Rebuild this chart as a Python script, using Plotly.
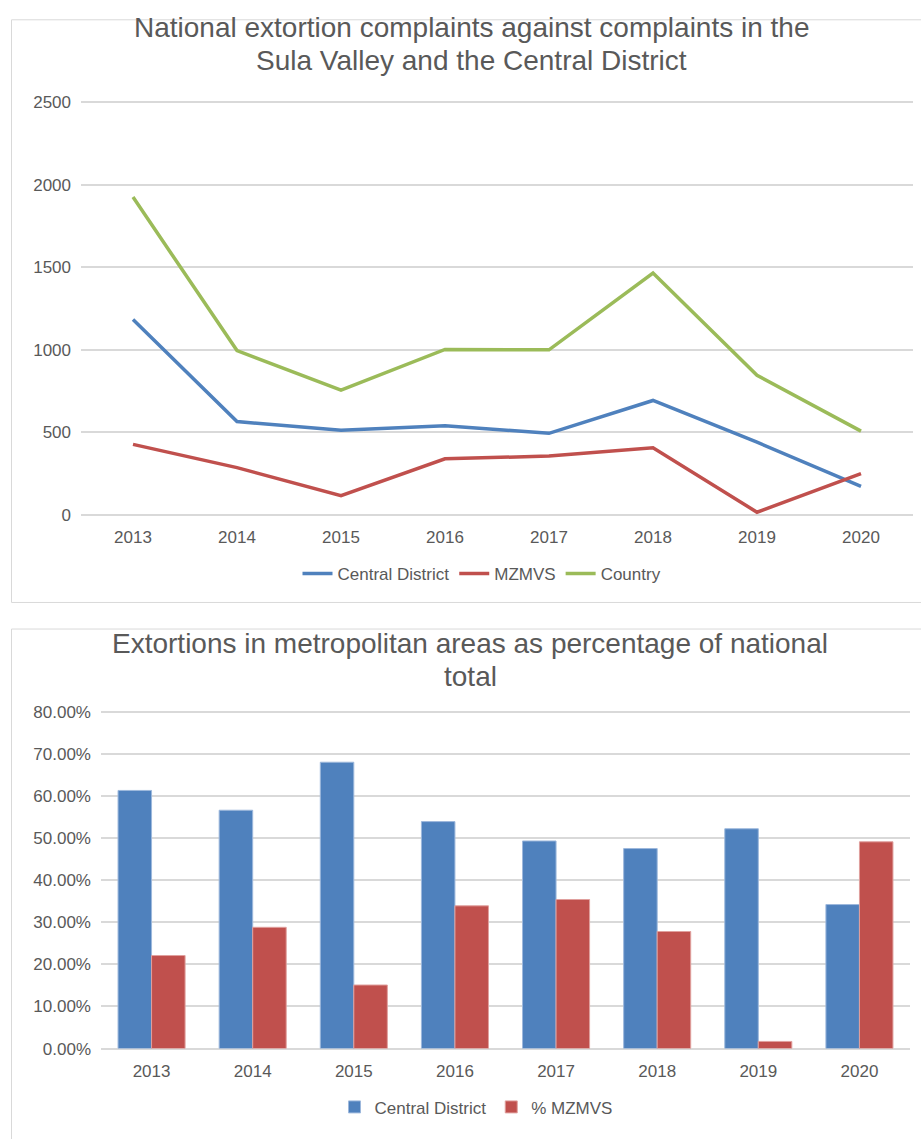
import plotly.graph_objects as go

# Years shared by both panels
years = ["2013", "2014", "2015", "2016", "2017", "2018", "2019", "2020"]

# Extortion complaints (counts)
central_district = [1183, 565, 512, 540, 494, 693, 440, 172]
mzmvs = [427, 286, 116, 340, 356, 407, 16, 250]
country = [1925, 995, 755, 1002, 1000, 1465, 846, 507]

# Share of the national total (%)
central_pct = [61.3, 56.6, 68.0, 53.9, 49.3, 47.5, 52.2, 34.2]
mzmvs_pct = [22.1, 28.8, 15.1, 33.9, 35.4, 27.8, 1.7, 49.1]

# Axis ticks
count_ticks = [0, 500, 1000, 1500, 2000, 2500]
pct_ticks = [0, 10, 20, 30, 40, 50, 60, 70, 80]
pct_labels = [f"{v:.2f}%" for v in pct_ticks]

BLUE = "#4F81BD"
RED = "#C0504D"
GREEN = "#9BBB59"
GRID = "#D9D9D9"
TEXT = "#595959"
FONT = "Liberation Sans, Arial, sans-serif"

W, H = 921, 1139


def px_x(x):
    return x / W


def px_y(y):
    return 1 - y / H


fig = go.Figure()

# Top panel: lines
for name, vals, col in [("Central District", central_district, BLUE),
                        ("MZMVS", mzmvs, RED),
                        ("Country", country, GREEN)]:
    fig.add_trace(go.Scatter(x=years, y=vals, name=name, mode="lines",
                             line=dict(color=col, width=3.5),
                             xaxis="x", yaxis="y", legend="legend"))

# Bottom panel: grouped bars
fig.add_trace(go.Bar(x=years, y=central_pct, name="Central District",
                     marker=dict(color=BLUE, line=dict(color="#9DB8DC", width=1)),
                     xaxis="x2", yaxis="y2", legend="legend2"))
fig.add_trace(go.Bar(x=years, y=mzmvs_pct, name="% MZMVS",
                     marker=dict(color=RED, line=dict(color="#E0A09E", width=1)),
                     xaxis="x2", yaxis="y2", legend="legend2"))

axis_font = dict(family=FONT, size=17, color=TEXT)
title_font = dict(family=FONT, size=28, color=TEXT)

titles = [
    ("National extortion complaints against complaints in the", 471, 20),
    ("Sula Valley and the Central District", 471, 53),
    ("Extortions in metropolitan areas as percentage of national", 470, 646),
    ("total", 470, 679),
]

fig.update_layout(
    width=W, height=H,
    margin=dict(l=0, r=0, t=0, b=0),
    paper_bgcolor="white", plot_bgcolor="white",
    font=dict(family=FONT, color=TEXT),
    barmode="group", bargap=0.337, bargroupgap=0,
    xaxis=dict(domain=[px_x(81), px_x(913)], anchor="y", type="category",
               range=[-0.5, 7.5], showgrid=False, showline=False, zeroline=False,
               tickfont=axis_font, ticks="", ticklabelstandoff=10),
    yaxis=dict(domain=[px_y(515), px_y(94.0)], anchor="x", range=[0, 2510],
               tickmode="array", tickvals=count_ticks,
               showgrid=True, gridcolor=GRID, gridwidth=1.5,
               zeroline=True, zerolinecolor=GRID, zerolinewidth=1.5,
               showline=False, tickfont=axis_font, ticks="", ticklabelstandoff=9),
    xaxis2=dict(domain=[px_x(101), px_x(910)], anchor="y2", type="category",
                showgrid=False, showline=False, zeroline=False,
                tickfont=axis_font, ticks="", ticklabelstandoff=10),
    yaxis2=dict(domain=[px_y(1057.3), px_y(713.7)], anchor="x2", range=[0, 80.3],
                tickmode="array", tickvals=pct_ticks, ticktext=pct_labels,
                showgrid=True, gridcolor=GRID, gridwidth=1.5,
                zeroline=True, zerolinecolor=GRID, zerolinewidth=1.5,
                showline=False, tickfont=axis_font, ticks="", ticklabelstandoff=9),
    legend=dict(orientation="h", x=px_x(482), xanchor="center",
                y=px_y(575), yanchor="middle", itemwidth=30,
                font=dict(family=FONT, size=17, color=TEXT),
                bgcolor="rgba(0,0,0,0)"),
    legend2=dict(orientation="h", x=px_x(476), xanchor="center",
                 y=px_y(1117), yanchor="middle", itemwidth=30,
                 font=dict(family=FONT, size=17, color=TEXT),
                 bgcolor="rgba(0,0,0,0)"),
    annotations=[
        dict(text=t, x=px_x(cx), y=px_y(cy), xref="paper", yref="paper",
             xanchor="center", yanchor="middle", showarrow=False, font=title_font)
        for t, cx, cy in titles
    ],
    shapes=[
        dict(type="rect", xref="paper", yref="paper",
             x0=px_x(11.5), x1=px_x(940), y0=px_y(604), y1=px_y(12),
             line=dict(color=GRID, width=1), fillcolor="rgba(0,0,0,0)", layer="below"),
        dict(type="rect", xref="paper", yref="paper",
             x0=px_x(11.5), x1=px_x(940), y0=px_y(1160), y1=px_y(631),
             line=dict(color=GRID, width=1), fillcolor="rgba(0,0,0,0)", layer="below"),
    ],
)

fig.write_html("out.html")
